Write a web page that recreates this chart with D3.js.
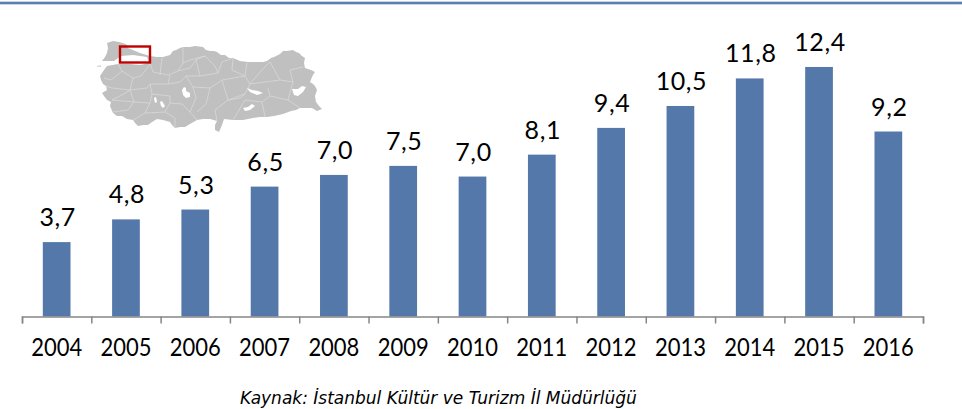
<!DOCTYPE html>
<html>
<head>
<meta charset="utf-8">
<script src="https://cdn.jsdelivr.net/npm/d3@7"></script>
<style>
  html, body { margin: 0; padding: 0; background: #fff; }
  text { font-family: "Lato", sans-serif; fill: #000; }
</style>
</head>
<body>
<svg id="chart" width="962" height="409"></svg>
<script>
// values
var years = ["2004", "2005", "2006", "2007", "2008", "2009", "2010", "2011", "2012", "2013", "2014", "2015", "2016"];
var visitors = [3.7, 4.83, 5.32, 6.46, 7.04, 7.49, 6.96, 8.05, 9.38, 10.47, 11.84, 12.41, 9.2];
var sourceNote = "Kaynak: İstanbul Kültür ve Turizm İl Müdürlüğü";

// map inset
var mapOutline = [[107,43],[110,42],[113,41],[119,42],[126,44],[128,48],[140,53],[150,56],[157,57],[163,57],[170,55],[173,51],[176,50],[180,48],[183,47],[190,47],[195,46],[203,47],[206,50],[210,51],[214,51],[217,52],[221,55],[225,55],[229,58],[233,58],[240,61],[248,62],[258,62],[263,62],[267,61],[271,58],[274,57],[280,54],[283,51],[287,51],[293,50],[296,52],[299,53],[302,56],[305,58],[304,63],[305,68],[311,70],[315,72],[313,75],[312,77],[310,82],[313,84],[315,86],[317,90],[315,96],[316,102],[319,106],[322,109],[317,111],[312,108],[308,108],[300,108],[296,110],[291,111],[283,114],[274,116],[267,117],[260,117],[253,118],[243,120],[233,120],[224,119],[222,125],[219,132],[215,130],[215,125],[217,121],[210,119],[203,119],[197,120],[190,124],[185,127],[180,127],[175,128],[172,125],[170,122],[163,120],[157,119],[152,122],[148,125],[143,125],[138,126],[135,123],[133,120],[127,119],[122,116],[117,116],[113,113],[110,106],[111,102],[107,100],[104,96],[102,93],[107,90],[106,86],[103,84],[101,80],[100,76],[104,70],[107,66],[118,64],[130,64],[140,65],[149,63],[147,57],[133,55],[121,56],[114,61],[102,61],[105,57],[107,53],[108,48]];
var mapIslet = [[97,66],[101,65],[101,67],[97,67]];
var mapLakes = [
  [[182,90],[184,87],[186,88],[186,91],[190,93],[190,97],[186,98],[183,95]],
  [[154,98],[156,97],[157,102],[155,103]],
  [[160,102],[162,101],[165,106],[163,108],[161,106]],
  [[292,89],[298,89],[302,86],[306,87],[303,92],[298,96],[294,95]],
  [[247,88],[252,90],[258,91],[263,93],[257,95],[250,92]],
  [[243,108],[248,107],[252,104],[255,106],[250,110],[245,111]]
];
var mapBorders = [
  [[118,64],[122,71],[133,78],[141,76],[150,64]],
  [[150,63],[153,72],[168,75],[178,71],[183,63],[183,47]],
  [[122,71],[111,80],[104,78]],
  [[133,78],[130,90],[112,88],[106,86]],
  [[130,90],[134,102],[112,100]],
  [[134,102],[128,110],[113,112]],
  [[130,90],[147,88],[150,84],[168,84],[170,75]],
  [[150,84],[152,94],[150,103],[134,102]],
  [[150,103],[145,113],[133,120]],
  [[145,113],[165,112],[175,118],[175,128]],
  [[168,84],[180,82],[186,76],[200,76],[218,73],[222,62],[233,58]],
  [[186,76],[193,87],[196,98],[190,112],[197,120]],
  [[200,76],[196,60],[205,56],[215,66],[218,73]],
  [[193,87],[210,88],[222,80],[245,76],[247,63]],
  [[210,88],[206,104],[197,112]],
  [[222,80],[228,100],[215,110],[217,121]],
  [[245,76],[250,84],[280,80],[293,82]],
  [[250,84],[245,94],[228,100]],
  [[280,80],[270,62]],
  [[293,82],[290,70],[303,67]],
  [[293,82],[288,100],[270,96],[268,88]],
  [[270,96],[262,102],[265,117]],
  [[245,100],[238,112],[233,120]],
  [[288,100],[300,108]],
  [[160,75],[162,58]],
  [[205,56],[190,60],[183,63]],
  [[165,112],[170,103],[182,104],[190,112]],
  [[152,94],[170,96],[170,103]],
  [[178,71],[190,68],[196,60]],
  [[228,100],[240,98],[245,94]],
  [[262,102],[245,100]],
  [[233,58],[232,70],[245,76]],
  [[270,62],[260,72],[250,84]],
  [[112,100],[122,95],[130,90]]
];

function main() {
    var svg = d3.select("#chart");
    var left = 22, right = 923, baseline = 316.5;

    // rule across the top
    svg.append("rect").attr("x", 0).attr("y", 1).attr("width", 962).attr("height", 4).attr("fill", "#c9d6e8");
    svg.append("rect").attr("x", 0).attr("y", 2).attr("width", 962).attr("height", 2).attr("fill", "#5c7fb0");

    var xScale = d3.scaleBand().domain(years).range([left, right]).paddingInner(0.6).paddingOuter(0.3),
        edgeScale = d3.scaleLinear().domain([0, years.length]).range([left, right]),
        yScale = d3.scaleLinear().domain([0, 14]).range([baseline, 35]);

    // the map is a soft raster in the original
    svg.append("defs").append("filter").attr("id", "soft")
        .append("feGaussianBlur").attr("stdDeviation", 0.45);

    // map inset
    var line = d3.line();
    var map = svg.append("g").attr("filter", "url(#soft)");
    map.append("path").attr("d", line(mapOutline) + "Z").attr("fill", "#c0c0c0");
    map.append("path").attr("d", line(mapIslet) + "Z").attr("fill", "#d8d8d8");
    map.selectAll(".border").data(mapBorders).enter().append("path")
        .attr("class", "border").attr("d", line)
        .attr("fill", "none").attr("stroke", "#d8d8d8").attr("stroke-width", 0.8);
    map.selectAll(".lake").data(mapLakes).enter().append("path")
        .attr("class", "lake").attr("d", function(d) { return line(d) + "Z"; })
        .attr("fill", "#fff");
    svg.append("rect").attr("x", 120).attr("y", 46.5).attr("width", 30).attr("height", 16)
        .attr("fill", "none").attr("stroke", "#c00000").attr("stroke-width", 2.4);

    // bars
    svg.selectAll(".bar").data(visitors).enter().append("rect")
        .attr("class", "bar")
        .attr("x", function(d, i) { return xScale(years[i]); })
        .attr("y", function(d) { return yScale(d); })
        .attr("width", xScale.bandwidth())
        .attr("height", function(d) { return baseline - yScale(d); })
        .attr("fill", "#5578aa");

    // value labels, comma decimal
    svg.selectAll(".value").data(visitors).enter().append("text")
        .attr("class", "value")
        .attr("x", function(d, i) { return xScale(years[i]) + xScale.bandwidth() / 2 + 1; })
        .attr("y", function(d) { return yScale(d) - 16; })
        .attr("text-anchor", "middle")
        .style("font-size", "25px")
        .style("letter-spacing", "0.6px")
        .text(function(d) { return d.toFixed(1).replace(".", ","); });

    // axis: ticks sit on the category edges
    var axis = svg.append("g").attr("transform", "translate(0," + baseline + ")")
        .call(d3.axisBottom(edgeScale).tickValues(d3.range(years.length + 1)).tickSize(7).tickFormat(""));
    axis.select(".domain").attr("stroke", "#868686").attr("stroke-width", 1.5);
    axis.selectAll(".tick line").attr("stroke", "#868686").attr("stroke-width", 1.5);

    svg.selectAll(".year").data(years).enter().append("text")
        .attr("class", "year")
        .attr("x", function(d) { return xScale(d) + xScale.bandwidth() / 2; })
        .attr("y", 355.5)
        .attr("text-anchor", "middle")
        .attr("textLength", 51)
        .attr("lengthAdjust", "spacingAndGlyphs")
        .style("font-size", "25px")
        .text(function(d) { return d; });

    svg.append("text")
        .attr("x", 438.5).attr("y", 404)
        .attr("text-anchor", "middle")
        .style("font-family", "'DejaVu Sans', sans-serif")
        .style("font-size", "17px")
        .style("font-style", "italic")
        .text(sourceNote);
}
main();
</script>
</body>
</html>
